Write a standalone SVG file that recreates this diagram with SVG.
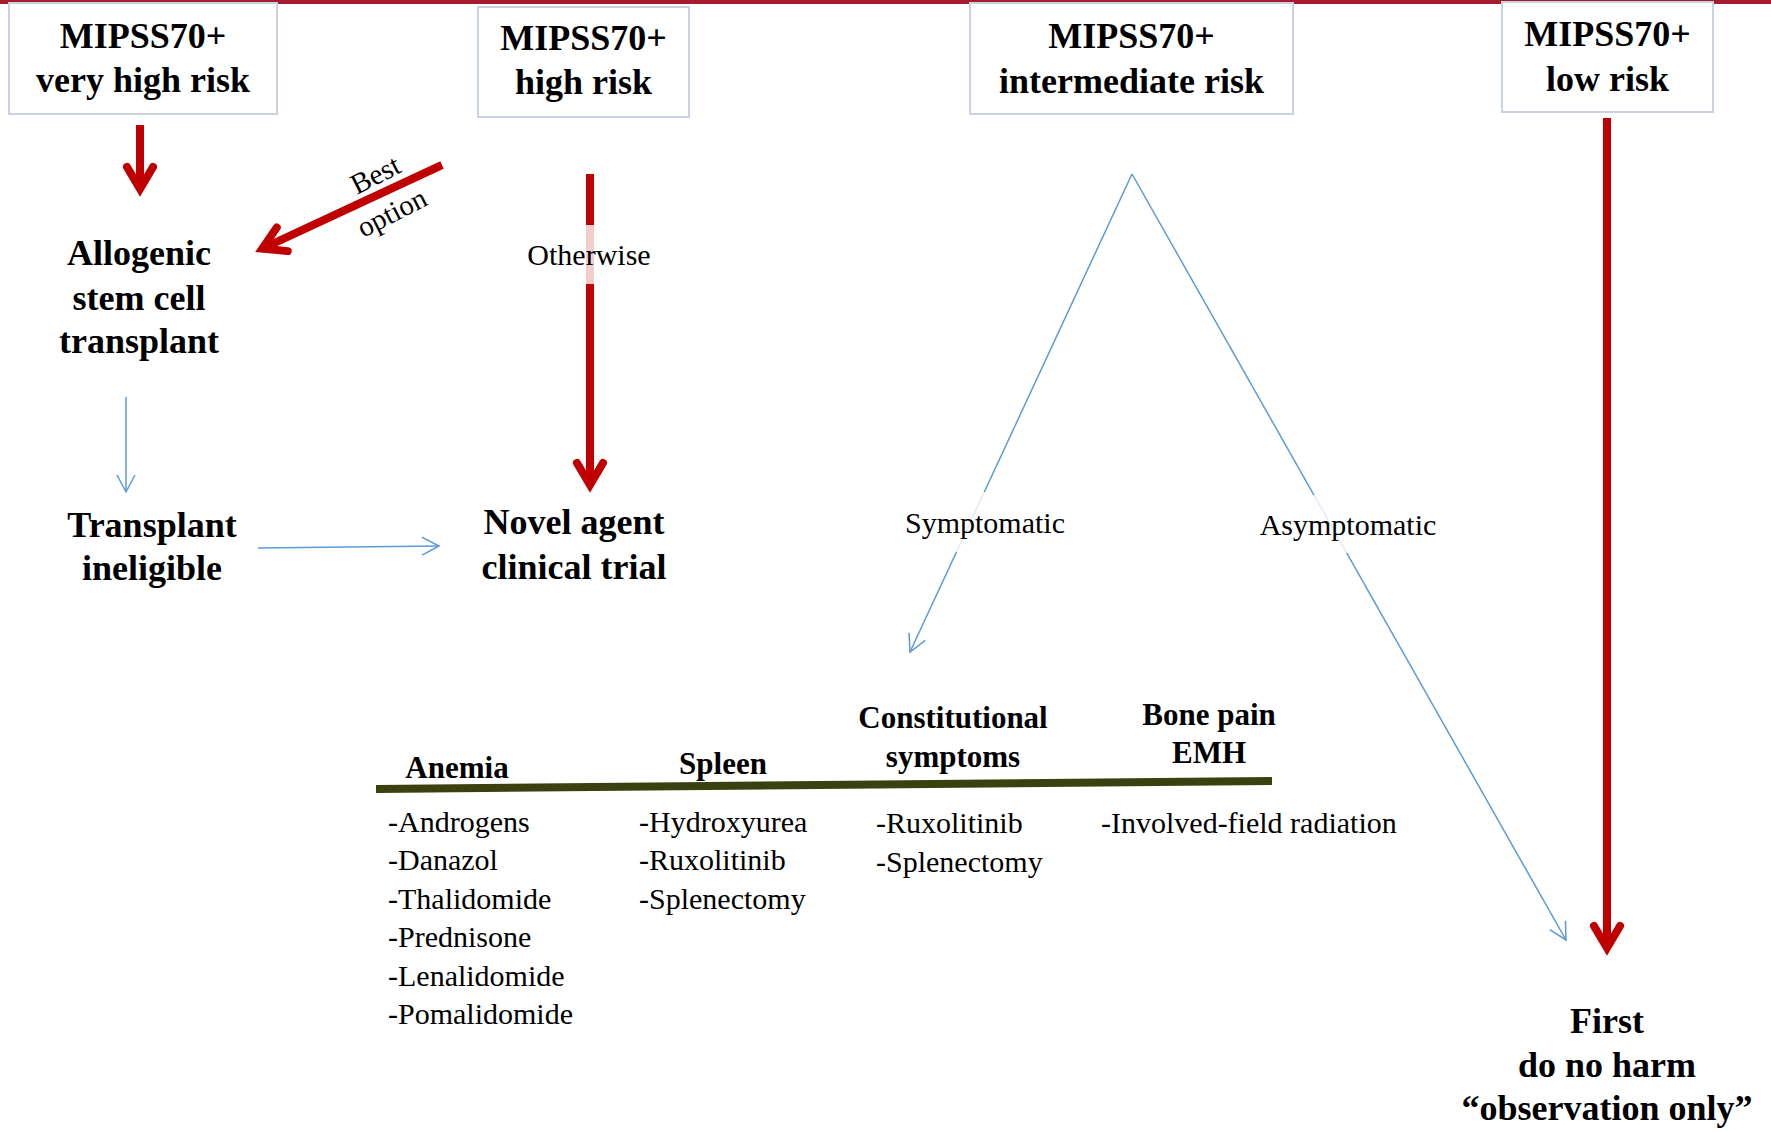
<svg xmlns="http://www.w3.org/2000/svg" width="1771" height="1132" viewBox="0 0 1771 1132">
<style>
  text { font-family: "Liberation Serif", "Times New Roman", serif; fill: #000; }
  .b36 { font-size: 36px; font-weight: bold; }
  .b31 { font-size: 31px; font-weight: bold; }
  .r30 { font-size: 30px; }
  .r29 { font-size: 29px; }
  .box { fill: #fff; stroke: #C9D3E0; stroke-width: 2; }
  .red { stroke: #C00000; stroke-width: 8; fill: none; }
  .blue { stroke: #5B9BD5; stroke-width: 1.5; fill: none; }
  .mid { text-anchor: middle; }
</style>
<defs>
  <marker id="redHead" markerUnits="userSpaceOnUse" orient="auto" refX="-8" refY="0" markerWidth="44" markerHeight="44" viewBox="-40 -22 44 44" overflow="visible">
    <path d="M -30 -13 L -8 0 L -30 13" fill="none" stroke="#C00000" stroke-width="8" stroke-linecap="round" stroke-linejoin="miter" stroke-miterlimit="10"/>
  </marker>
  <marker id="blueHead" markerUnits="userSpaceOnUse" orient="auto" refX="0" refY="0" markerWidth="24" markerHeight="24" viewBox="-20 -12 24 24" overflow="visible">
    <path d="M -17 -9 L 0 0 L -17 9" fill="none" stroke="#5B9BD5" stroke-width="1.5"/>
  </marker>
</defs>
<rect width="1771" height="1132" fill="#fff"/>
<rect x="0" y="0" width="1771" height="4" fill="#A51C30"/>

<g id="connectors">
  <line class="red" x1="140" y1="125" x2="140" y2="189" marker-end="url(#redHead)"/>
  <line class="red" x1="442" y1="165" x2="262.3" y2="248.6" marker-end="url(#redHead)"/>
  <line class="red" x1="590" y1="174" x2="590" y2="485" marker-end="url(#redHead)"/>
  <line class="red" x1="1607" y1="118" x2="1607" y2="948" marker-end="url(#redHead)"/>
  <line class="blue" x1="126" y1="397" x2="126" y2="492" marker-end="url(#blueHead)"/>
  <line class="blue" x1="258" y1="548" x2="439" y2="546" marker-end="url(#blueHead)"/>
  <line class="blue" x1="1132" y1="174" x2="910" y2="652" marker-end="url(#blueHead)"/>
  <line class="blue" x1="1132" y1="174" x2="1566" y2="940" marker-end="url(#blueHead)"/>

  <g id="label-best-option">
    <text class="r29 mid" transform="translate(377,178) rotate(-27)" y="6">Best</text>
    <text class="r29 mid" transform="translate(393,215) rotate(-27)" y="7">option</text>
  </g>
  <g id="label-otherwise">
    <rect x="520" y="225" width="136" height="59" fill="#fff" fill-opacity="0.8"/>
    <text class="r30 mid" x="589" y="265">Otherwise</text>
  </g>
  <g id="label-symptomatic">
    <rect x="900" y="492" width="170" height="60" fill="#fff" fill-opacity="0.8"/>
    <text class="r30 mid" x="985" y="533">Symptomatic</text>
  </g>
  <g id="label-asymptomatic">
    <rect x="1255" y="495" width="188" height="58" fill="#fff" fill-opacity="0.8"/>
    <text class="r30 mid" x="1348" y="535">Asymptomatic</text>
  </g>
</g>

<g id="node-very-high">
  <rect class="box" x="9" y="3" width="268" height="111"/>
  <text class="b36 mid" x="143" y="48">MIPSS70+</text>
  <text class="b36 mid" x="143" y="92">very high risk</text>
</g>
<g id="node-high">
  <rect class="box" x="478" y="7" width="211" height="110"/>
  <text class="b36 mid" x="583.5" y="50">MIPSS70+</text>
  <text class="b36 mid" x="583.5" y="94">high risk</text>
</g>
<g id="node-intermediate">
  <rect class="box" x="970" y="3" width="323" height="111"/>
  <text class="b36 mid" x="1131.5" y="48">MIPSS70+</text>
  <text class="b36 mid" x="1131.5" y="93">intermediate risk</text>
</g>
<g id="node-low">
  <rect class="box" x="1502" y="2" width="211" height="110"/>
  <text class="b36 mid" x="1607.5" y="46">MIPSS70+</text>
  <text class="b36 mid" x="1607.5" y="91">low risk</text>
</g>

<g id="node-allogenic">
  <text class="b36 mid" x="139" y="265">Allogenic</text>
  <text class="b36 mid" x="139" y="310">stem cell</text>
  <text class="b36 mid" x="139" y="353">transplant</text>
</g>
<g id="node-transplant-ineligible">
  <text class="b36 mid" x="152" y="537">Transplant</text>
  <text class="b36 mid" x="152" y="580">ineligible</text>
</g>
<g id="node-novel-agent">
  <text class="b36 mid" x="574" y="534">Novel agent</text>
  <text class="b36 mid" x="574" y="579">clinical trial</text>
</g>
<g id="node-observation">
  <text class="b36 mid" x="1607" y="1033">First</text>
  <text class="b36 mid" x="1607" y="1077">do no harm</text>
  <text class="b36 mid" x="1607" y="1120">“observation only”</text>
</g>

<g id="node-symptom-table">
  <line x1="376" y1="789" x2="1272" y2="781" stroke="#3A400F" stroke-width="8"/>
  <text class="b31 mid" x="457" y="778">Anemia</text>
  <text class="b31 mid" x="723" y="774">Spleen</text>
  <text class="b31 mid" x="953" y="728">Constitutional</text>
  <text class="b31 mid" x="953" y="767">symptoms</text>
  <text class="b31 mid" x="1209" y="725">Bone pain</text>
  <text class="b31 mid" x="1209" y="763">EMH</text>

  <text class="r30" x="388" y="832">-Androgens</text>
  <text class="r30" x="388" y="870">-Danazol</text>
  <text class="r30" x="388" y="909">-Thalidomide</text>
  <text class="r30" x="388" y="947">-Prednisone</text>
  <text class="r30" x="388" y="986">-Lenalidomide</text>
  <text class="r30" x="388" y="1024">-Pomalidomide</text>

  <text class="r30" x="639" y="832">-Hydroxyurea</text>
  <text class="r30" x="639" y="870">-Ruxolitinib</text>
  <text class="r30" x="639" y="909">-Splenectomy</text>

  <text class="r30" x="876" y="833">-Ruxolitinib</text>
  <text class="r30" x="876" y="872">-Splenectomy</text>

  <text class="r30" x="1101" y="833">-Involved-field radiation</text>
</g>
</svg>
